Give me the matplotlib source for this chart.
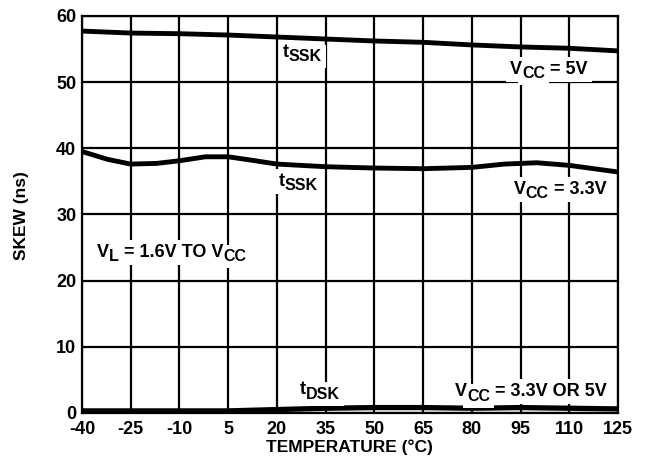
import matplotlib.pyplot as plt
import numpy as np

plt.rcParams['font.family'] = 'Liberation Sans'
plt.rcParams['font.weight'] = 'bold'
plt.rcParams['axes.unicode_minus'] = False

# Skew vs temperature
temp_5v = [-40, -25, -10, 5, 20, 35, 50, 65, 80, 95, 110, 125]
tssk_5v = [57.7, 57.4, 57.3, 57.1, 56.8, 56.5, 56.2, 56.0, 55.6, 55.3, 55.1, 54.7]

temp_33v = [-40, -32, -25, -17, -10, -2, 5, 12, 20, 35, 50, 65, 80, 90, 100, 110, 125]
tssk_33v = [39.5, 38.3, 37.6, 37.7, 38.1, 38.7, 38.7, 38.2, 37.6, 37.2, 37.0, 36.9, 37.1, 37.6, 37.8, 37.4, 36.4]

temp_dsk = [-40, -25, -10, 5, 20, 35, 50, 65, 80, 95, 110, 125]
tdsk = [0.3, 0.3, 0.3, 0.3, 0.5, 0.7, 0.8, 0.8, 0.7, 0.8, 0.7, 0.6]

xticks = [-40, -25, -10, 5, 20, 35, 50, 65, 80, 95, 110, 125]
yticks = [0, 10, 20, 30, 40, 50, 60]


def draw_pieces(ax, x, y, pieces, fs, sub_fs, drop, color, box, z):
    first = ax.text(x, y, pieces[0][0], fontsize=fs, ha='left', va='baseline',
                    color=color, bbox=box, zorder=z)
    prev = first
    for txt, is_sub in pieces[1:]:
        prev = ax.annotate(txt, xy=(1, 0), xycoords=(prev, first),
                           xytext=(0, drop if is_sub else 0), textcoords='offset points',
                           fontsize=sub_fs if is_sub else fs, ha='left', va='bottom',
                           color=color, bbox=box, zorder=z)


def sub_label(ax, x, y, pieces, fs=13, sub_fs=11.5, drop=-2.3):
    # pieces: list of (text, is_subscript); white backing first, then the text on top
    box = dict(facecolor='white', edgecolor='none', pad=3)
    draw_pieces(ax, x, y, pieces, fs, sub_fs, drop, 'white', box, 3.5)
    draw_pieces(ax, x, y, pieces, fs, sub_fs, drop, 'black', None, 4)


fig = plt.figure(figsize=(6.5, 4.66), dpi=100)
ax = fig.add_axes([0.126, 0.114, 0.825, 0.852])

for t in xticks:
    ax.axvline(t, color='k', lw=1.6, zorder=1)
for v in yticks:
    ax.axhline(v, color='k', lw=1.6, zorder=1)

ax.plot(temp_5v, tssk_5v, color='k', lw=3.5, zorder=3, solid_capstyle='butt')
ax.plot(temp_33v, tssk_33v, color='k', lw=3.5, zorder=3, solid_capstyle='butt')
ax.plot(temp_dsk, tdsk, color='k', lw=3.8, zorder=3, solid_capstyle='butt', clip_on=False)

sub_label(ax, 21.8, 53.8, [('t', 0), ('SSK', 1)])
sub_label(ax, 91.7, 51.2, [('V', 0), ('CC', 1), (' = 5V', 0)])
sub_label(ax, 20.6, 34.3, [('t', 0), ('SSK', 1)])
sub_label(ax, 92.9, 33.1, [('V', 0), ('CC', 1), (' = 3.3V', 0)])
sub_label(ax, -35.4, 23.6, [('V', 0), ('L', 1), (' = 1.6V TO V', 0), ('CC', 1)])
sub_label(ax, 27.0, 2.8, [('t', 0), ('DSK', 1)])
sub_label(ax, 74.8, 2.5, [('V', 0), ('CC', 1), (' = 3.3V OR 5V', 0)])

ax.set_xlim(-40, 125)
ax.set_ylim(0, 60)
ax.set_xticks(xticks)
ax.set_yticks(yticks)
ax.tick_params(length=0, labelsize=13)
ax.tick_params(axis='x', pad=6)
ax.tick_params(axis='y', pad=4)
for s in ax.spines.values():
    s.set_linewidth(1.6)

fig.text(0.538, 0.041, 'TEMPERATURE (°C)', fontsize=12.5, fontweight='bold',
         ha='center', va='center')
fig.text(0.033, 0.538, 'SKEW (ns)', fontsize=12.5, fontweight='bold',
         ha='center', va='center', rotation=90)

fig.savefig('out.png', dpi=100)
